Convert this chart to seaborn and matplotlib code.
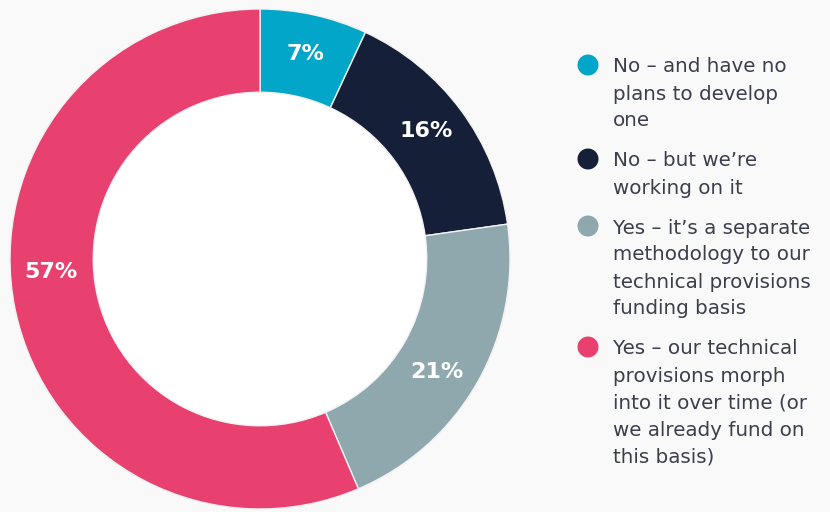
import numpy as np
import matplotlib
matplotlib.use("Agg")
import matplotlib.pyplot as plt
import seaborn as sns

# Survey responses (percent of respondents)
categories = [
    "No – and have no\nplans to develop\none",
    "No – but we’re\nworking on it",
    "Yes – it’s a separate\nmethodology to our\ntechnical provisions\nfunding basis",
    "Yes – our technical\nprovisions morph\ninto it over time (or\nwe already fund on\nthis basis)",
]
values = [7, 16, 21, 57]
colors = ["#02a6c9", "#151f37", "#8fa8ad", "#e8406f"]

sns.set_theme(style="white")
plt.rcParams["font.family"] = ["DejaVu Sans"]
palette = sns.color_palette(colors)

W, H = 830, 512
bg = "#f9f9f9"
fig = plt.figure(figsize=(W / 100, H / 100), dpi=100, facecolor=bg)

# Donut axes: centre at (260, 259) px, outer radius 250 px
cx, cy, R = 260, 259, 250
ax = fig.add_axes([(cx - R) / W, (H - cy - R) / H, 2 * R / W, 2 * R / H])
ax.set_facecolor("none")
ax.axis("off")

ring = 0.333
wedges, _ = ax.pie(
    values,
    colors=palette,
    startangle=90,
    counterclock=False,
    radius=1.0,
    wedgeprops=dict(width=ring, edgecolor="#f2f2f2", linewidth=1.0),
)
# white centre
ax.add_patch(plt.Circle((0, 0), 1 - ring, color="white", zorder=0.5))

# value labels sit in the ring; small angular nudges keep them clear of edges
label_r = 0.84
label_nudge = [0, 1, -3, -8]
for w, v, dn in zip(wedges, values, label_nudge):
    ang = np.deg2rad((w.theta1 + w.theta2) / 2 + dn)
    ax.text(label_r * np.cos(ang), label_r * np.sin(ang), f"{v}%",
            ha="center", va="center", color="white",
            fontsize=16, fontweight="bold")
ax.set_xlim(-1, 1)
ax.set_ylim(-1, 1)
ax.set_aspect("equal")

# Legend, drawn as coloured dots with wrapped labels
line_h = 27
gap = 13
y = 67
for cat, col in zip(categories, palette):
    fig.patches.append(matplotlib.patches.Ellipse(
        (588 / W, 1 - (y - 2) / H), 21 / W, 21 / H,
        transform=fig.transFigure, facecolor=col, edgecolor="none"))
    lines = cat.split("\n")
    for i, ln in enumerate(lines):
        fig.text(613 / W, 1 - (y + i * line_h) / H, ln,
                 ha="left", va="center", fontsize=14.3, color="#3b3f4c")
    y += len(lines) * line_h + gap

fig.savefig("out.png", dpi=100, facecolor=bg)
